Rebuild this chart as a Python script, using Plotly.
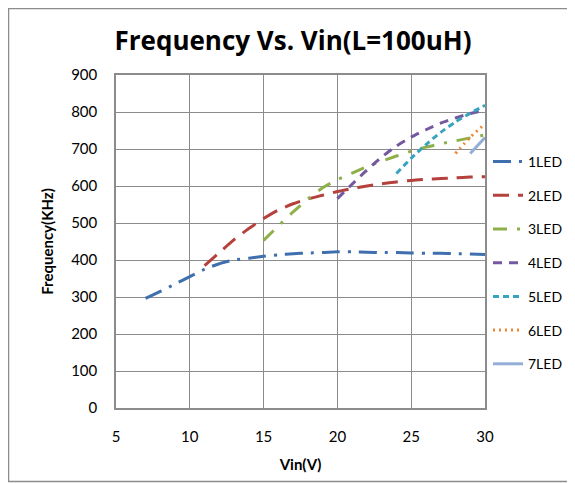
import plotly.graph_objects as go

# ---- data ----
x_1led = [7, 8, 9, 10, 11, 12, 13, 14, 15, 16, 17, 18, 19, 20, 21, 22, 23, 24, 25, 26, 27, 28, 29, 30]
y_1led = [296, 315, 335, 355, 375, 390, 400, 405, 410, 414, 417, 419, 420, 422, 422, 421, 420, 420, 419, 418, 418, 417, 416, 415]

x_2led = [11, 12, 13, 14, 15, 16, 17, 18, 19, 20, 21, 22, 23, 24, 25, 26, 27, 28, 29, 30]
y_2led = [385, 420, 455, 485, 512, 535, 552, 565, 575, 585, 593, 600, 606, 611, 615, 618, 620, 622, 624, 625]

x_3led = [15, 16, 17, 18, 19, 20, 21, 22, 23, 24, 25, 26, 27, 28, 29, 30]
y_3led = [453, 492, 530, 565, 595, 617, 635, 652, 667, 681, 694, 705, 714, 722, 730, 738]

x_4led = [20, 21, 22, 23, 24, 25, 26, 27, 28, 29, 30]
y_4led = [566, 605, 643, 678, 708, 732, 752, 770, 784, 796, 805]

x_5led = [24, 25, 26, 27, 28, 29, 30]
y_5led = [634, 675, 712, 745, 773, 797, 818]

x_6led = [28, 29, 30]
y_6led = [688, 732, 768]

x_7led = [29, 30]
y_7led = [688, 731]

series_names = ["1LED", "2LED", "3LED", "4LED", "5LED", "6LED", "7LED"]
x_ticks = [5, 10, 15, 20, 25, 30]
y_ticks = [0, 100, 200, 300, 400, 500, 600, 700, 800, 900]

colors = ["#3F6FAE", "#B5413D", "#8DB04A", "#7559A0", "#36A4BF", "#EE8734", "#93AFD8"]
dashes = ["18px,8px,3px,8px", "16px,9px", "14px,10px,3px,10px", "9px,7px", "6px,4px", "2px,4px", "solid"]

FONT = "Lato, 'Liberation Sans', sans-serif"
TFONT = "'Open Sans', Lato, sans-serif"

fig = go.Figure()
data = [(x_1led, y_1led), (x_2led, y_2led), (x_3led, y_3led), (x_4led, y_4led),
        (x_5led, y_5led), (x_6led, y_6led), (x_7led, y_7led)]
for i, (xs, ys) in enumerate(data):
    fig.add_trace(go.Scatter(
        x=xs, y=ys, mode="lines", name=series_names[i],
        line=dict(color=colors[i], width=3, dash=dashes[i], shape="spline", smoothing=0.6),
        legendgroup=series_names[i],
    ))

# page has an 8px body margin; figure placed at (8,8)
OFF = 8
W, H = 567, 475
L, T, B = 108, 67, 75
R = W - (485 - OFF)
pw = W - L - R
ph = H - T - B

def px2paper_x(p):  # p = page pixel
    return (p - OFF - L) / pw

def px2paper_y(p):
    return (OFF + H - B - p) / ph

fig.update_layout(
    width=W, height=H,
    margin=dict(l=L, r=R, t=T, b=B, autoexpand=False),
    paper_bgcolor="white", plot_bgcolor="white",
    font=dict(family=FONT, size=15, color="#000000"),
    title=dict(text="<b>Frequency Vs. Vin(L=100uH)</b>", x=(293 - OFF) / W, xanchor="center",
               y=1 - (41 - OFF) / H, yanchor="middle",
               font=dict(family=TFONT, size=26, color="#000000")),
    showlegend=True,
    legend=dict(x=px2paper_x(488), y=px2paper_y(146), xanchor="left", yanchor="top",
                font=dict(family=FONT, size=14), tracegroupgap=12.5,
                bgcolor="rgba(0,0,0,0)"),
    xaxis=dict(range=[5, 30], tickvals=x_ticks, showgrid=True, gridcolor="#8C8C8C", gridwidth=1,
               showline=True, linecolor="#8C8C8C", linewidth=1.5, mirror=True,
               ticks="", ticklabelstandoff=14,
               zeroline=False, tickfont=dict(size=15),
               title=dict(text="<b>Vin(V)</b>", font=dict(size=15), standoff=16)),
    yaxis=dict(range=[0, 900], tickvals=y_ticks, showgrid=True, gridcolor="#8C8C8C", gridwidth=1,
               showline=True, linecolor="#8C8C8C", linewidth=1.5, mirror=True,
               ticks="", ticklabelstandoff=14,
               zeroline=False, tickfont=dict(size=15),
               title=dict(text="<b>Frequency(KHz)</b>", font=dict(size=15), standoff=14)),
    shapes=[dict(type="rect", xref="paper", yref="paper",
                 x0=px2paper_x(OFF + 0.5), x1=px2paper_x(OFF + W + 10),
                 y0=px2paper_y(481.5), y1=px2paper_y(OFF + 0.5),
                 line=dict(color="#8C8C8C", width=1.5), layer="below")],
)

fig.write_html("out.html")
